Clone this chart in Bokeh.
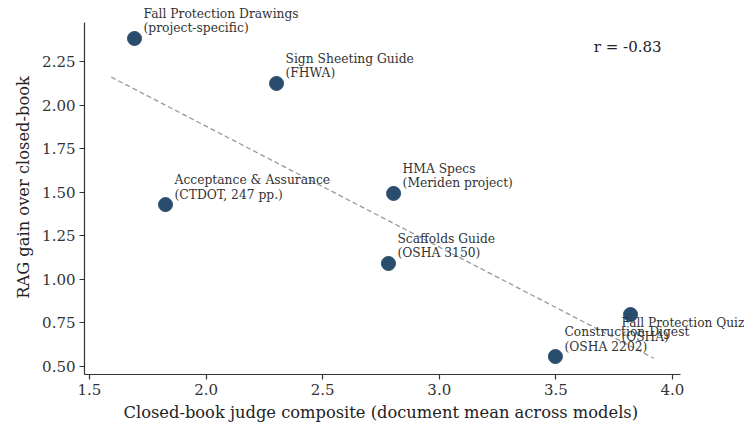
import numpy as np
from bokeh.plotting import figure
from bokeh.models import ColumnDataSource, LabelSet, Label, Range1d, FixedTicker, NumeralTickFormatter, Title
from bokeh.core.properties import value
from bokeh.embed import file_html
from bokeh.resources import INLINE

# ---- data ----
docs = [
    "Fall Protection Drawings\n(project-specific)",
    "Sign Sheeting Guide\n(FHWA)",
    "Acceptance & Assurance\n(CTDOT, 247 pp.)",
    "HMA Specs\n(Meriden project)",
    "Scaffolds Guide\n(OSHA 3150)",
    "Construction Digest\n(OSHA 2202)",
    "Fall Protection Quiz\n(OSHA)",
]
closed_book = [1.693, 2.302, 1.826, 2.804, 2.782, 3.498, 3.820]
rag_gain = [2.382, 2.124, 1.429, 1.493, 1.091, 0.557, 0.798]
label_below = [False, False, False, False, False, False, True]
x_ticks = [1.5, 2.0, 2.5, 3.0, 3.5, 4.0]
y_ticks = [0.5, 0.75, 1.0, 1.25, 1.5, 1.75, 2.0, 2.25]
x_title = "Closed-book judge composite (document mean across models)"
y_title = "RAG gain over closed-book"

FONT = "DejaVu Serif"
TXT = "#333333"
PT = "#2a4d6e"

xa = np.array(closed_book)
ya = np.array(rag_gain)
slope, intercept = np.polyfit(xa, ya, 1)
r = np.corrcoef(xa, ya)[0, 1]
fx = np.array([xa.min() - 0.1, xa.max() + 0.1])
fy = slope * fx + intercept

p = figure(width=744, height=429, output_backend="svg", toolbar_location=None,
           frame_width=660, frame_height=374,
           min_border_left=84, min_border_right=0, min_border_top=0, min_border_bottom=55,
           x_range=Range1d(1.4786, 4.3088), y_range=Range1d(0.454, 2.600))
p.outline_line_color = None
p.xgrid.visible = False
p.ygrid.visible = False
p.background_fill_color = "white"
p.border_fill_color = "white"

p.line(fx, fy, line_color="#999999", line_width=1.3, line_dash="5 3")

src = ColumnDataSource(dict(x=closed_book, y=rag_gain, t=docs))
p.scatter("x", "y", source=src, size=14, fill_color=PT, line_color=PT)

above = [i for i, b in enumerate(label_below) if not b]
below = [i for i, b in enumerate(label_below) if b]
src_a = ColumnDataSource(dict(x=[closed_book[i] for i in above], y=[rag_gain[i] for i in above],
                              t=[docs[i] for i in above]))
src_b = ColumnDataSource(dict(x=[closed_book[i] for i in below], y=[rag_gain[i] for i in below],
                              t=[docs[i] for i in below]))
p.add_layout(LabelSet(x="x", y="y", text="t", source=src_a, x_offset=9, y_offset=3,
                      text_font=value(FONT), text_font_size="12.3px", text_color=TXT,
                      text_baseline="bottom", text_align="left", text_line_height=1.03))
p.add_layout(LabelSet(x="x", y="y", text="t", source=src_b, x_offset=-9, y_offset=-1,
                      text_font=value(FONT), text_font_size="12.2px", text_color=TXT,
                      text_baseline="top", text_align="left", text_line_height=1.0))

p.add_layout(Label(x=3.953, y=2.382, text=f"r = {r:.2f}", text_font=FONT, text_font_size="15px",
                   text_color="#222222", text_align="right", text_baseline="top"))

for ax in (p.xaxis, p.yaxis):
    ax.axis_line_color = "#333333"
    ax.axis_line_width = 1.2
    ax.major_tick_line_color = "#333333"
    ax.major_tick_line_width = 1.2
    ax.major_tick_out = 5
    ax.major_tick_in = 0
    ax.minor_tick_line_color = None
    ax.major_label_text_font = FONT
    ax.major_label_text_font_size = "15px"
    ax.major_label_text_color = TXT
    ax.axis_label_text_font = FONT
    ax.axis_label_text_font_size = "16.3px"
    ax.axis_label_text_font_style = "normal"
    ax.axis_label_text_color = "#222222"

p.xaxis.bounds = (1.4786, 4.036)
p.yaxis.bounds = (0.454, 2.474)
p.xaxis.ticker = FixedTicker(ticks=x_ticks)
p.yaxis.ticker = FixedTicker(ticks=y_ticks)
p.xaxis.formatter = NumeralTickFormatter(format="0.0")
p.yaxis.formatter = NumeralTickFormatter(format="0.00")
p.yaxis.axis_label = y_title
p.xaxis.major_label_standoff = 4
p.yaxis.major_label_standoff = 4
p.yaxis.axis_label_standoff = 6

p.add_layout(Title(text=x_title, align="left", offset=39, standoff=7,
                   text_font=FONT, text_font_size="16.3px", text_font_style="normal",
                   text_color="#222222"), "below")

open("out.html", "w").write(file_html(p, INLINE))
